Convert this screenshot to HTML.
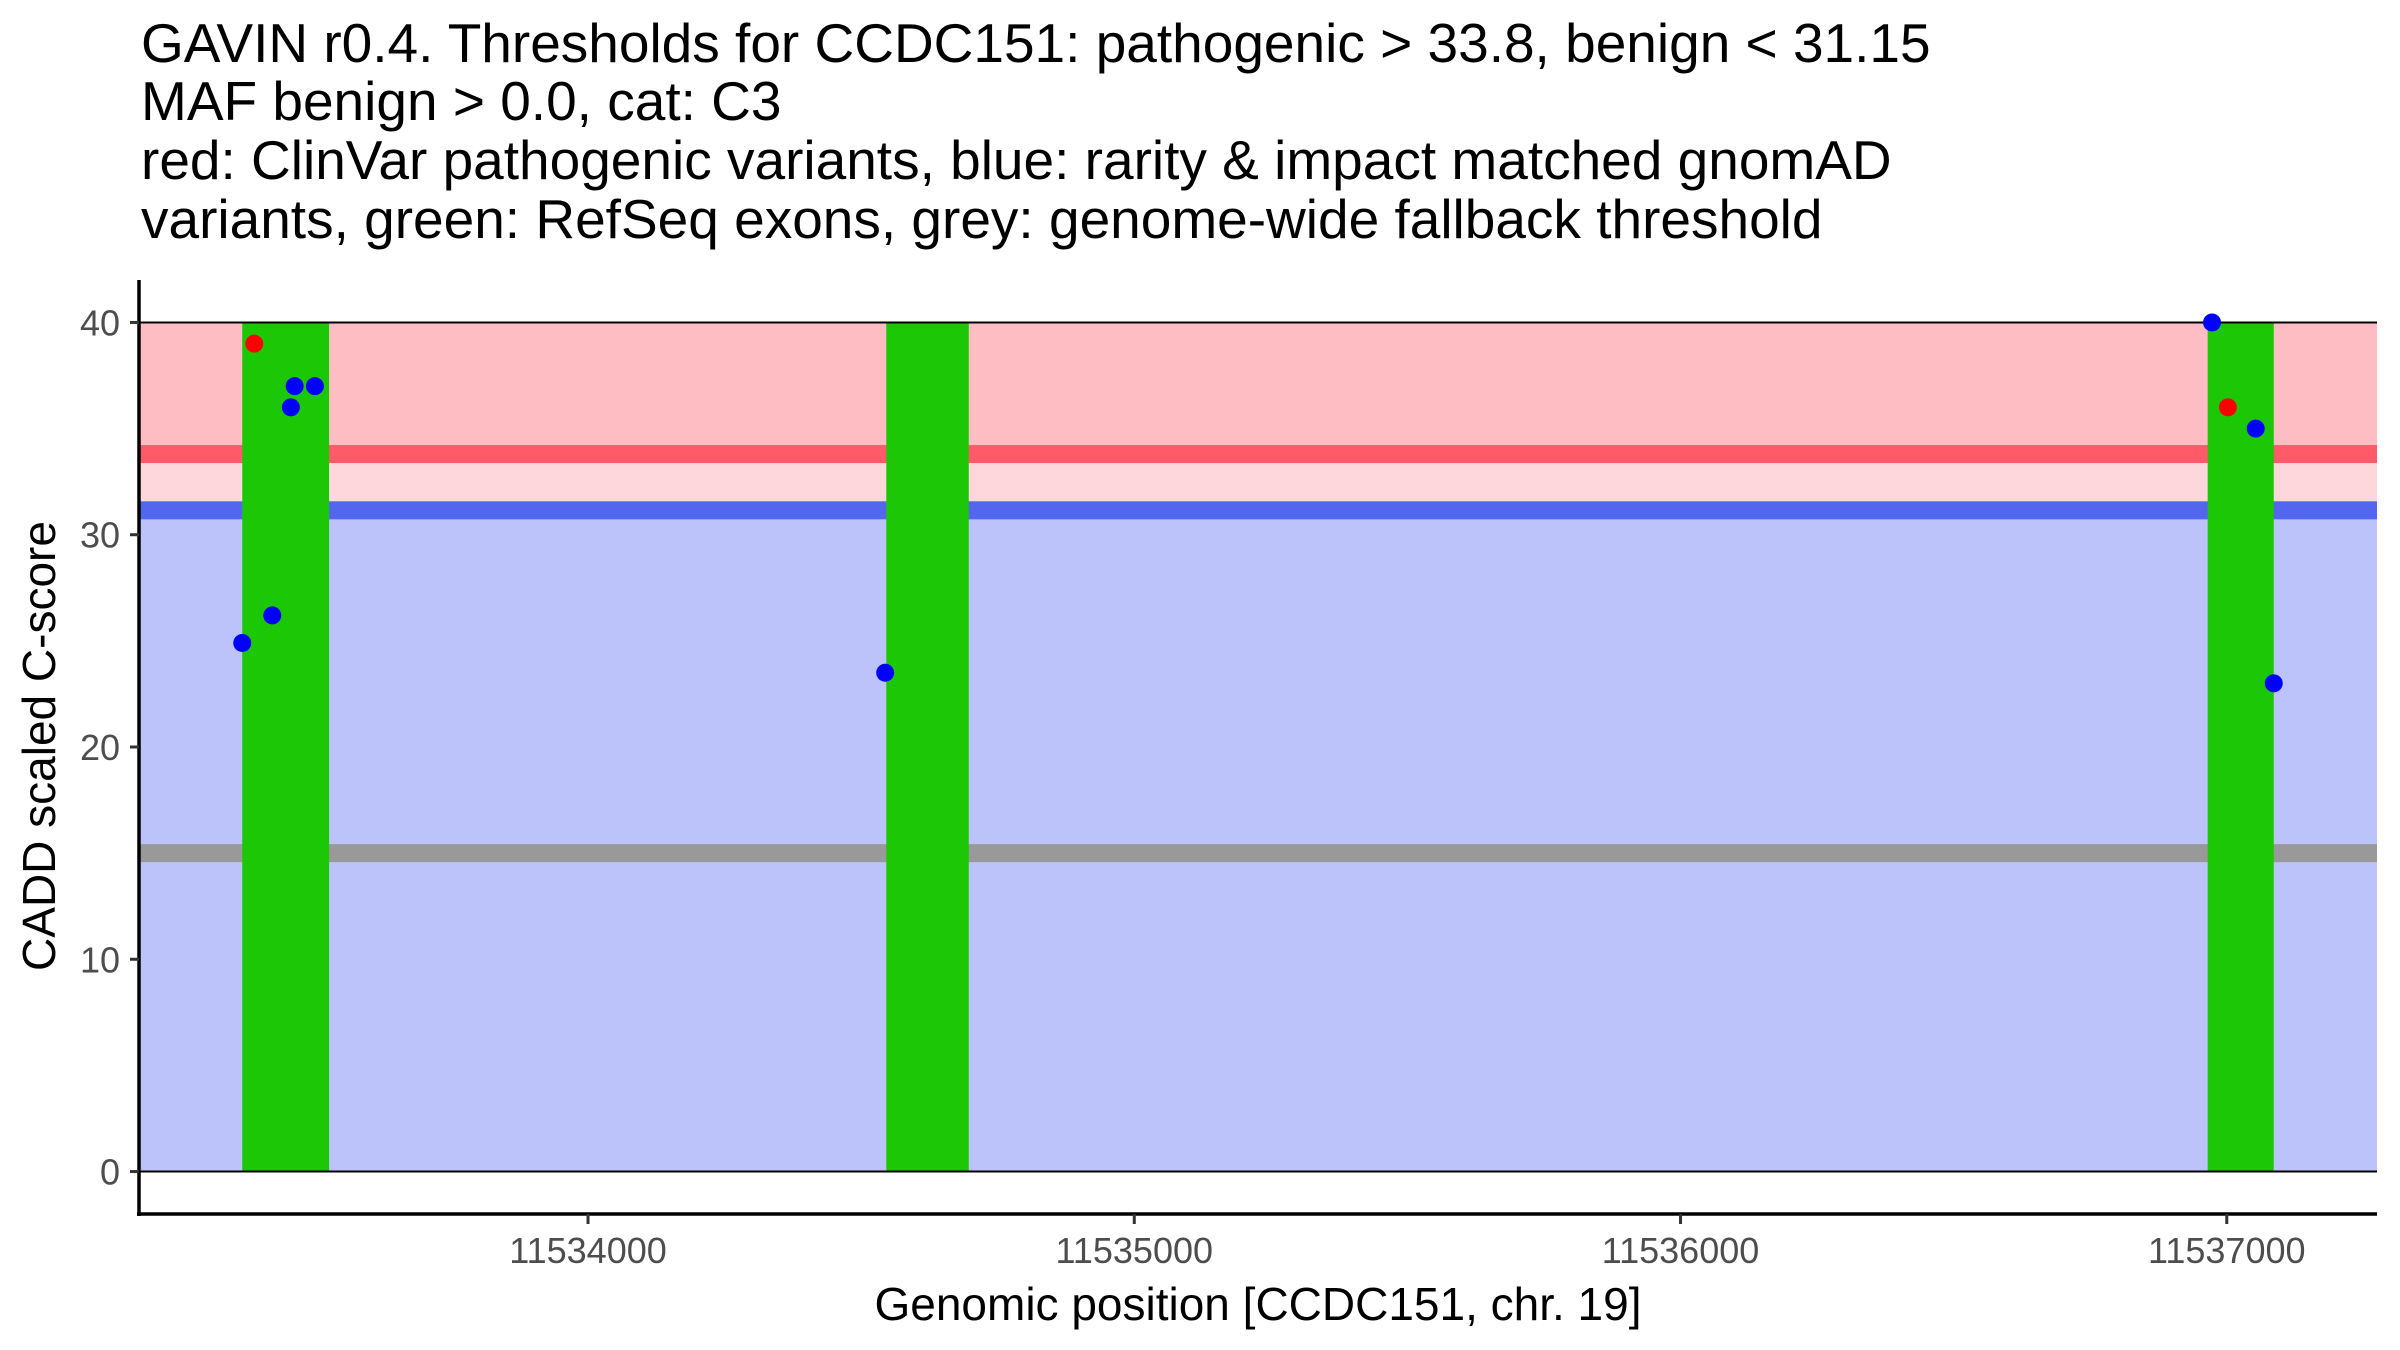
<!DOCTYPE html>
<html><head><meta charset="utf-8"><style>
html,body{margin:0;padding:0;background:#fff;}
svg{display:block;font-family:"Liberation Sans",Arial,sans-serif;}
</style></head><body>
<svg id="chart" width="2400" height="1350" viewBox="0 0 2400 1350">
<g id="title" font-size="55" fill="#000">
<text x="141" y="62">GAVIN r0.4. Thresholds for CCDC151: pathogenic &gt; 33.8, benign &lt; 31.15</text>
<text x="141" y="120">MAF benign &gt; 0.0, cat: C3</text>
<text x="141" y="179">red: ClinVar pathogenic variants, blue: rarity &amp; impact matched gnomAD</text>
<text x="141" y="238">variants, green: RefSeq exons, grey: genome-wide fallback threshold</text>
</g>
<g id="plot"></g>
<text x="1258" y="1320" font-size="46" text-anchor="middle">Genomic position [CCDC151, chr. 19]</text>
<text transform="translate(55,746) rotate(-90)" font-size="46" text-anchor="middle">CADD scaled C-score</text>
</svg>
<script>
const pathoThreshold = 33.8;
const benignThreshold = 31.15;
const fallbackThreshold = 15;
const exonStarts = [11533367, 11534546, 11536965];
const exonEnds = [11533526, 11534697, 11537086];
const pointPos = [11533389, 11533367, 11533422, 11533456, 11533463, 11533500, 11534544, 11536973, 11537002, 11537053, 11537086];
const pointScore = [39, 24.9, 26.2, 36, 37, 37, 23.5, 40, 36, 35, 23];
const pointClass = ['red','blue','blue','blue','blue','blue','blue','blue','red','blue','blue'];
const xTicks = [11534000, 11535000, 11536000, 11537000];
const yTicks = [0, 10, 20, 30, 40];

const L=139, R=2377, T=280, B=1214;
const xMin=11533178, xMax=11537275, yMin=-2, yMax=42;
const X=v=>L+(v-xMin)/(xMax-xMin)*(R-L);
const Y=v=>B-(v-yMin)/(yMax-yMin)*(B-T);
const NS='http://www.w3.org/2000/svg';
const g=document.getElementById('plot');
function mk(t,a){const e=document.createElementNS(NS,t);for(const k in a)e.setAttribute(k,a[k]);g.appendChild(e);return e;}

let e;
e=mk('rect',{x:L,y:Y(40),width:R-L,height:Y(pathoThreshold)-Y(40),fill:'#FDBDC2'});


e=mk('rect',{x:L,y:Y(pathoThreshold),width:R-L,height:Y(benignThreshold)-Y(pathoThreshold),fill:'#FED7DC'});


e=mk('rect',{x:L,y:Y(benignThreshold),width:R-L,height:Y(0)-Y(benignThreshold),fill:'#BCC2FA'});


e=mk('rect',{x:L,y:Y(pathoThreshold)-9,width:R-L,height:18,fill:'#FF5A6A'});


e=mk('rect',{x:L,y:Y(benignThreshold)-9,width:R-L,height:18,fill:'#5366EE'});


e=mk('rect',{x:L,y:Y(fallbackThreshold)-9,width:R-L,height:18,fill:'#999999'});


for(let i=0;i<exonStarts.length;i++){
  e=mk('rect',{x:X(exonStarts[i]),y:Y(40),width:X(exonEnds[i])-X(exonStarts[i]),height:Y(0)-Y(40),fill:'#1CC806'});
  
  
}
e=mk('line',{x1:L,x2:R,y1:Y(40),y2:Y(40),stroke:'#000','stroke-width':2});


e=mk('line',{x1:L,x2:R,y1:Y(0),y2:Y(0),stroke:'#000','stroke-width':2});


for(let i=0;i<pointPos.length;i++){
  e=mk('circle',{cx:X(pointPos[i]),cy:Y(pointScore[i]),r:9,fill:pointClass[i]==='red'?'#FF0000':'#0000FF'});
  
  
}
e=mk('line',{x1:L,x2:L,y1:T,y2:B+2,stroke:'#000','stroke-width':3.5});


e=mk('line',{x1:L-2,x2:R,y1:B,y2:B,stroke:'#000','stroke-width':3.5});


for(const t of yTicks){
  e=mk('line',{x1:L-9,x2:L,y1:Y(t),y2:Y(t),stroke:'#333','stroke-width':3});
  
  
  e=mk('text',{x:120,y:Y(t)+13,'font-size':36,'text-anchor':'end',fill:'#4d4d4d'});
  e.textContent=t;
  
  
}
for(const t of xTicks){
  e=mk('line',{x1:X(t),x2:X(t),y1:B,y2:B+10,stroke:'#333','stroke-width':3});
  
  
  e=mk('text',{x:X(t),y:1263,'font-size':36,'text-anchor':'middle',fill:'#4d4d4d'});
  e.textContent=t;
  
  
}
</script>
</body></html>
